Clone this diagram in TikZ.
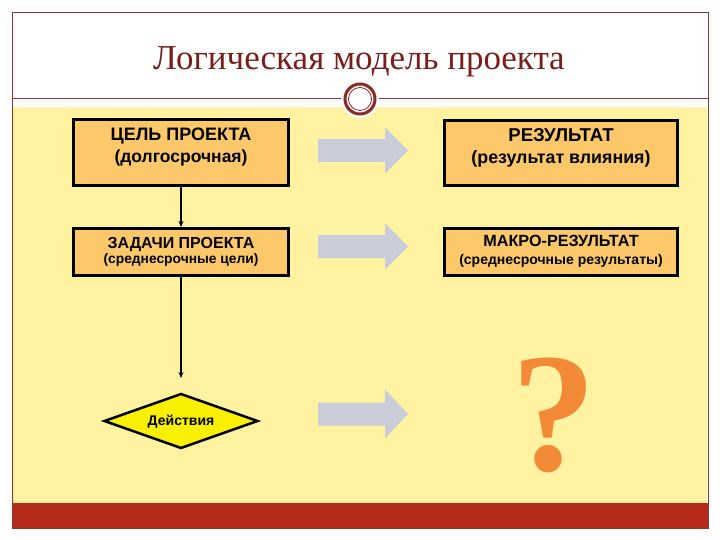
\documentclass[tikz,border=0pt]{standalone}
\usepackage{fontspec}
\setmainfont{Liberation Serif}
\newfontfamily\arialf{Liberation Sans}
\usetikzlibrary{shapes.geometric,arrows.meta}
\definecolor{bgyellow}{HTML}{FFF3A1}
\definecolor{boxorange}{HTML}{FCC86A}
\definecolor{framec}{HTML}{8A3B2E}
\definecolor{barred}{HTML}{B52A1A}
\definecolor{titlec}{HTML}{7A1E1A}
\definecolor{ringred}{HTML}{8B2A22}
\definecolor{arrowgray}{HTML}{C9CDD9}
\definecolor{qorange}{HTML}{F28A38}
\definecolor{diayellow}{HTML}{F8F000}
\begin{document}
\begin{tikzpicture}[x=1pt,y=-1pt,
  boxstyle/.style={draw=black, line width=3pt, fill=boxorange, inner sep=0pt},
  boxtext/.style={anchor=base, inner sep=0pt, font=\arialf\bfseries\fontsize{#1}{#1}\selectfont},
  conn/.style={draw=black, line width=1.1pt, -{Stealth[length=6pt,width=5pt]}},
  grayarr/.style={fill=arrowgray}
]
\useasboundingbox (0,0) rectangle (720,540);
\fill[white] (0,0) rectangle (720,540);
\fill[bgyellow] (13,107) rectangle (707,503);
\fill[barred] (12,503) rectangle (708,528);
\draw[framec, line width=0.8pt] (12,12) rectangle (708,528);
\draw[framec, line width=1pt] (12,99) -- (708,99);

% title
\node[anchor=base, inner sep=0pt, text=titlec, font=\fontsize{35}{35}\selectfont] (title) at (359,70) {Логическая модель проекта};

% ring
\fill[white] (360,99) circle (19);
\node[circle, draw=ringred, line width=3pt, fill=white, minimum size=30pt, inner sep=0pt] (ring) at (360,99) {};
\draw[ringred, line width=0.8pt] (ring.center) circle (11.5);

% boxes
\node[boxstyle, minimum width=215pt, minimum height=66pt] (b1) at (181,152.5) {};
\node[boxstyle, minimum width=215pt, minimum height=47pt] (b2) at (181,252) {};
\node[boxstyle, minimum width=233pt, minimum height=65pt] (b3) at (561,153) {};
\node[boxstyle, minimum width=233pt, minimum height=47pt] (b4) at (561,252) {};

\node[boxtext=18] (t1a) at (181,141) {ЦЕЛЬ ПРОЕКТА};
\node[boxtext=17.5] (t1b) at (181,163) {(долгосрочная)};
\node[boxtext=16] (t2a) at (181,248) {ЗАДАЧИ ПРОЕКТА};
\node[boxtext=13.8] (t2b) at (181,263) {(среднесрочные цели)};
\node[boxtext=18.6] (t3a) at (561,142) {РЕЗУЛЬТАТ};
\node[boxtext=17.8] (t3b) at (561,164) {(результат влияния)};
\node[boxtext=16.2] (t4a) at (561,247) {МАКРО-РЕЗУЛЬТАТ};
\node[boxtext=14] (t4b) at (561,264) {(среднесрочные результаты)};

% diamond
\node[diamond, draw=black, line width=2.5pt, fill=diayellow, aspect=2.8, minimum width=154pt, minimum height=55pt, inner sep=0pt] (act) at (181,421) {};
\node[boxtext=14] (acttext) at (181,425) {Действия};
\coordinate (actin) at (181,378);

% connectors
\draw[conn] (b1) -- (b2);
\draw[conn] (b2) -- (actin);

% gray arrows
\foreach \cy/\hh in {150.5/23, 246.5/23, 414/24.5} {
  \fill[grayarr, shift={(318,\cy)}] (0,-11.5) -- (67,-11.5) -- (67,-\hh) -- (90,0) -- (67,\hh) -- (67,11.5) -- (0,11.5) -- cycle;
}

% question mark
\node[anchor=base, inner sep=0pt, text=qorange, font=\bfseries\fontsize{170}{170}\selectfont] (q) at (554,470) {?};
\end{tikzpicture}
\end{document}
